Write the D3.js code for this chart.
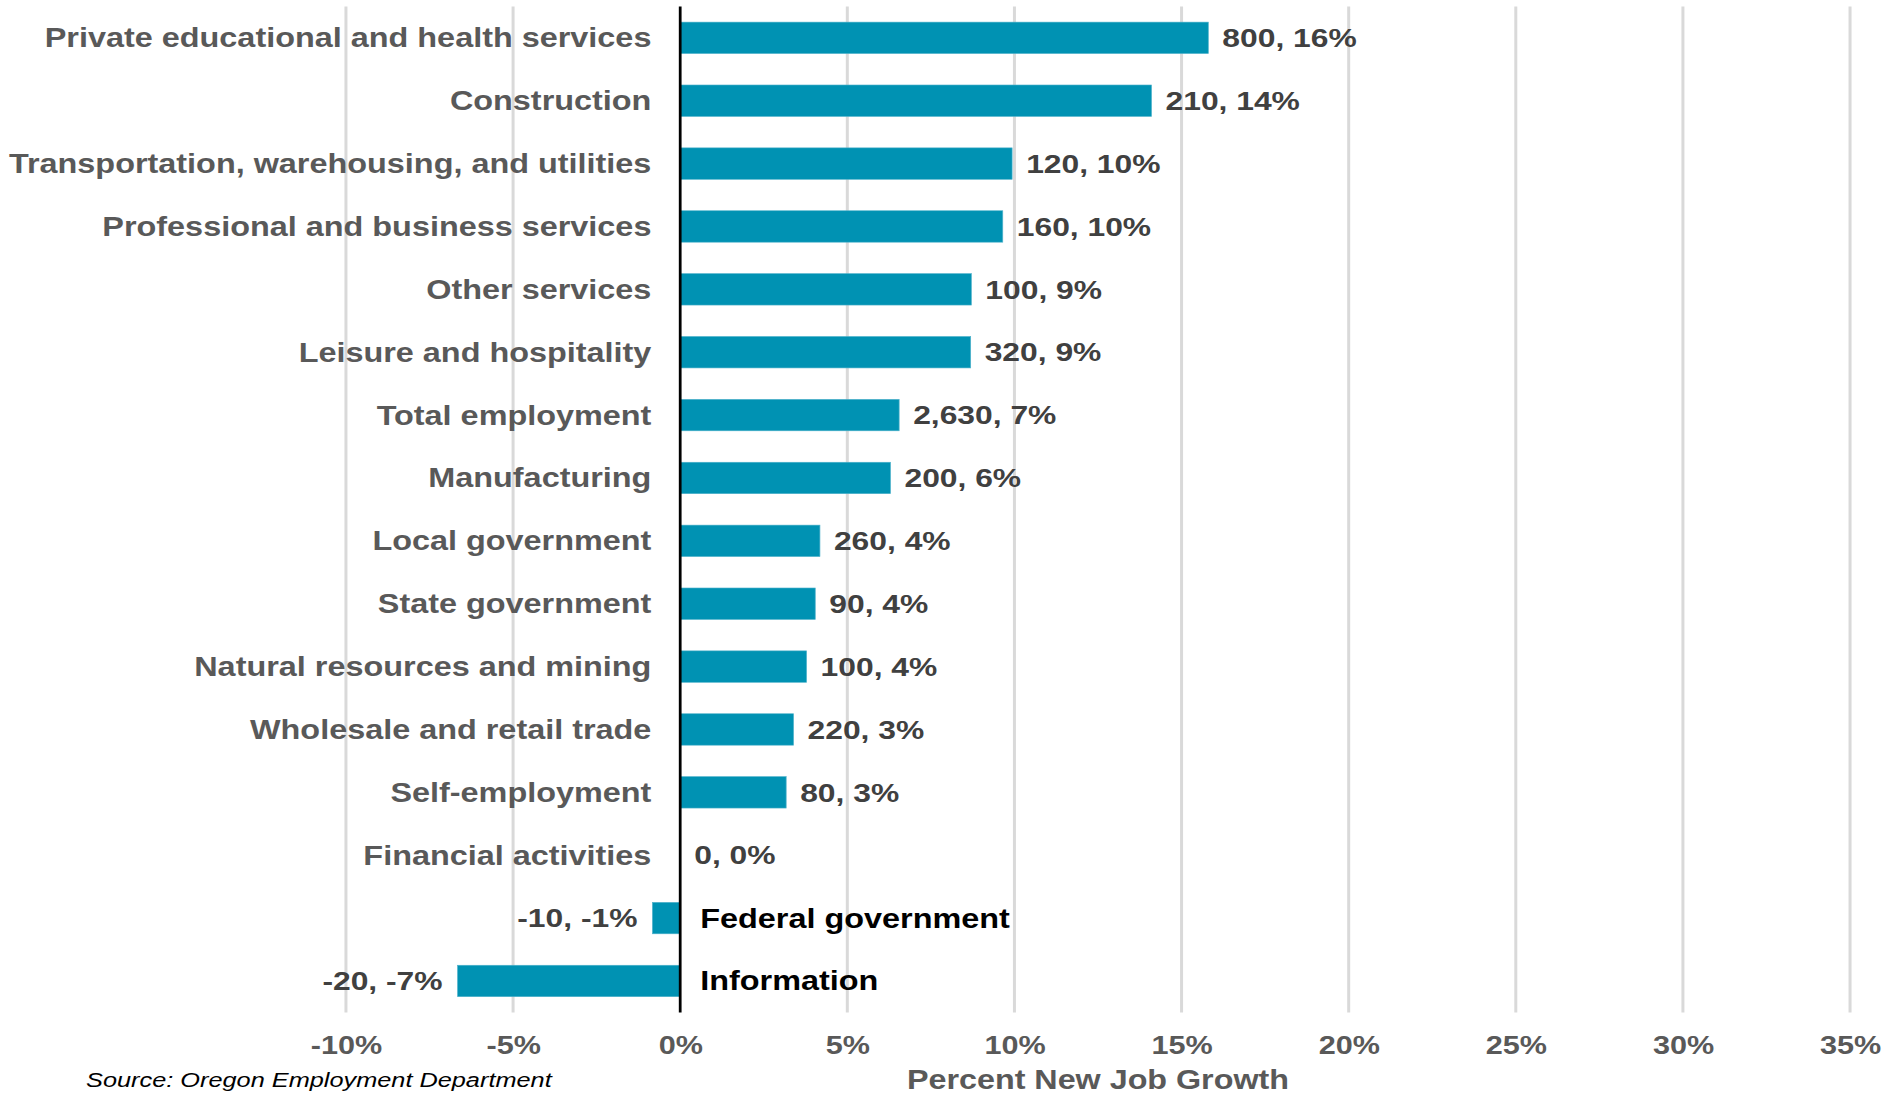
<!DOCTYPE html>
<html>
<head>
<meta charset="utf-8">
<script src="https://cdn.jsdelivr.net/npm/d3@7"></script>
<style>
  html, body { margin: 0; padding: 0; background: #fff; }
  svg { display: block; }
  text { font-family: "Liberation Sans", Arial, sans-serif; }
</style>
</head>
<body>
<div id="chart"></div>
<script>
const categories = [
  "Private educational and health services",
  "Construction",
  "Transportation, warehousing, and utilities",
  "Professional and business services",
  "Other services",
  "Leisure and hospitality",
  "Total employment",
  "Manufacturing",
  "Local government",
  "State government",
  "Natural resources and mining",
  "Wholesale and retail trade",
  "Self-employment",
  "Financial activities",
  "Federal government",
  "Information"
];
const pctGrowth = [15.8, 14.1, 9.93, 9.65, 8.71, 8.69, 6.55, 6.29, 4.18, 4.04, 3.78, 3.39, 3.17, 0, -0.83, -6.66];
const newJobs = [800, 210, 120, 160, 100, 320, 2630, 200, 260, 90, 100, 220, 80, 0, -10, -20];
const xTicks = [-10, -5, 0, 5, 10, 15, 20, 25, 30, 35];
const xTitle = "Percent New Job Growth";
const source = "Source: Oregon Employment Department";

const drawChart = () => {
  const chartSize = { width: 1886, height: 1094 };
  // the picture is stretched sideways, so draw in a narrower box and let it stretch
  const stretch = 1.2;
  const vbWidth = chartSize.width / stretch;
  const plot = { left: 288.3, right: 1541.7, top: 6.4, bottom: 1012.4 };

  const rows = categories.map((name, i) => ({ name, pct: pctGrowth[i], jobs: newJobs[i] }));

  const x = d3.scaleLinear().domain([-10, 35]).range([plot.left, plot.right]);
  const y = d3
    .scaleBand()
    .domain(categories)
    .range([plot.top, plot.bottom])
    .paddingInner(0.5)
    .paddingOuter(0.25);

  const svg = d3
    .select("#chart")
    .append("svg")
    .attr("width", chartSize.width)
    .attr("height", chartSize.height)
    .attr("viewBox", `0 0 ${vbWidth} ${chartSize.height}`)
    .attr("preserveAspectRatio", "none");

  // gridlines
  svg.append("g")
    .selectAll("line")
    .data(xTicks.filter(t => t !== 0))
    .enter()
    .append("line")
    .attr("x1", d => x(d))
    .attr("x2", d => x(d))
    .attr("y1", plot.top)
    .attr("y2", plot.bottom)
    .attr("stroke", "#d9d9d9")
    .attr("stroke-width", 2.5);

  // tick labels
  const xAxis = d3
    .axisBottom(x)
    .tickValues(xTicks)
    .tickSize(0)
    .tickPadding(24)
    .tickFormat(d => d + "%");
  const axisG = svg.append("g")
    .attr("transform", `translate(0,${plot.bottom})`)
    .call(xAxis);
  axisG.select(".domain").remove();
  axisG.selectAll("text")
    .attr("font-family", "Liberation Sans, Arial, sans-serif")
    .attr("font-size", 25.5)
    .attr("font-weight", "bold")
    .attr("fill", "#595959");

  // bars
  svg.append("g")
    .selectAll("rect")
    .data(rows)
    .enter()
    .append("rect")
    .attr("x", d => x(Math.min(0, d.pct)))
    .attr("y", d => y(d.name))
    .attr("width", d => Math.abs(x(d.pct) - x(0)))
    .attr("height", y.bandwidth())
    .attr("fill", "#0092b3")
    .attr("stroke", "#4fb2cb")
    .attr("stroke-width", 0.6);

  // zero line
  svg.append("line")
    .attr("x1", x(0))
    .attr("x2", x(0))
    .attr("y1", plot.top)
    .attr("y2", plot.bottom)
    .attr("stroke", "#000")
    .attr("stroke-width", 2.3);

  const mid = d => y(d.name) + y.bandwidth() / 2;
  const fmt = v => d3.format(",")(v).replace("\u2212", "-");

  // category names: left of the axis for growth, right of it for losses
  svg.append("g")
    .selectAll("text")
    .data(rows)
    .enter()
    .append("text")
    .attr("x", d => (d.pct < 0 ? x(0) + 16.7 : x(0) - 24))
    .attr("y", mid)
    .attr("dy", "0.35em")
    .attr("text-anchor", d => (d.pct < 0 ? "start" : "end"))
    .attr("font-size", 27)
    .attr("font-weight", "bold")
    .attr("fill", d => (d.pct < 0 ? "#000" : "#595959"))
    .text(d => d.name);

  // value labels
  svg.append("g")
    .selectAll("text")
    .data(rows)
    .enter()
    .append("text")
    .attr("x", d => (d.pct < 0 ? x(d.pct) - 12.5 : x(d.pct) + 11.7))
    .attr("y", mid)
    .attr("dy", "0.35em")
    .attr("text-anchor", d => (d.pct < 0 ? "end" : "start"))
    .attr("font-size", 26.5)
    .attr("font-weight", "bold")
    .attr("fill", "#404040")
    .text(d => `${fmt(d.jobs)}, ${Math.round(d.pct)}%`);

  // axis title and source
  svg.append("text")
    .attr("x", (plot.left + plot.right) / 2)
    .attr("y", 1089)
    .attr("text-anchor", "middle")
    .attr("font-size", 26.9)
    .attr("font-weight", "bold")
    .attr("fill", "#595959")
    .text(xTitle);

  svg.append("text")
    .attr("x", 71.7)
    .attr("y", 1087)
    .attr("font-size", 21.1)
    .attr("font-style", "italic")
    .attr("fill", "#000")
    .text(source);
};

window.onload = drawChart;
</script>
</body>
</html>
